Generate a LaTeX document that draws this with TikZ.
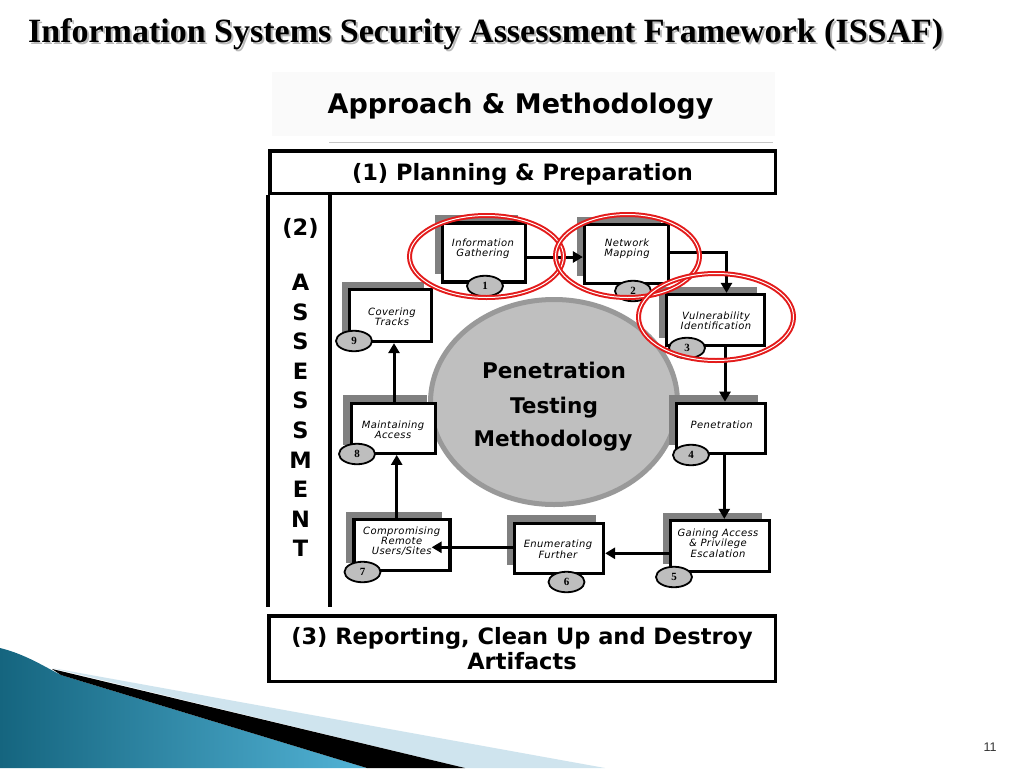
\documentclass[tikz,border=0pt]{standalone}
\usepackage{fontspec}
\usetikzlibrary{arrows.meta,shapes.geometric,shadows}
\newfontfamily\dvs{DejaVu Sans}
\newfontfamily\labfont[LetterSpace=4]{DejaVu Sans}
\newfontfamily\tnr{Liberation Serif}
\newfontfamily\arl{Liberation Sans}
\definecolor{shadowgray}{HTML}{808080}
\definecolor{numgray}{HTML}{BEBEBE}
\definecolor{circfill}{HTML}{BFBFBF}
\definecolor{circedge}{HTML}{999999}
\definecolor{ringred}{HTML}{E31B1B}
\definecolor{tealdark}{HTML}{15657F}
\definecolor{teallight}{HTML}{52B3D6}
\definecolor{paleblue}{HTML}{CFE4EE}
\definecolor{hdrbg}{HTML}{FAFAFA}
\begin{document}
\begin{tikzpicture}[x=1pt,y=-1pt,
  box/.style={draw=black, line width=3.2pt, fill=white, inner sep=0pt,
    general shadow={fill=shadowgray, shadow xshift=-8pt, shadow yshift=8pt}},
  numc/.style={ellipse, draw=black, line width=1.8pt, fill=numgray, inner sep=0pt,
    minimum width=36pt, minimum height=20.5pt, font=\tnr\bfseries\fontsize{11}{12}\selectfont},
  lab/.style={align=center, inner sep=0pt, font=\labfont\itshape\fontsize{10}{10.3}\selectfont},
  arr/.style={line width=3pt, -{Triangle[length=10pt,width=11pt]}},
  ring/.style={ellipse, draw=ringred, double=white, double distance=1pt, line width=2pt, inner sep=0pt},
  bigtxt/.style={font=\dvs\bfseries\fontsize{22.5}{24}\selectfont, inner sep=0pt},
  frame/.style={draw=black, line width=3.5pt, inner sep=0pt},
  vline/.style={line width=3.5pt}
]
\useasboundingbox (0,0) rectangle (1024,768);
\fill[white] (0,0) rectangle (1024,768);

% bottom-left decoration
\shade[left color=tealdark, right color=teallight] (0,648) .. controls (25,654) and (45,667) .. (61,675) -- (367,768) -- (0,768) -- cycle;
\fill[paleblue] (52,668) -- (605,768) -- (465,768) -- cycle;
\fill[black] (52,669) -- (465,768) -- (367,768) -- (61,675) -- cycle;

% title
\node[anchor=base west, inner sep=0pt, text=gray!55, font=\tnr\bfseries\fontsize{34}{38}\selectfont] (titsh) at (30,45) {Information Systems Security Assessment Framework (ISSAF)};
\node[anchor=base west, inner sep=0pt, font=\tnr\bfseries\fontsize{34}{38}\selectfont] (tit) at (28,43) {Information Systems Security Assessment Framework (ISSAF)};

% header
\fill[hdrbg] (272,72) rectangle (775,136);
\node[anchor=base, inner sep=0pt, font=\dvs\bfseries\fontsize{27}{30}\selectfont] (hdr) at (520.5,113.5) {Approach \& Methodology};
\draw[gray!45, line width=1.2pt] (329,142.5) -- (773,142.5);

% frames
\node[frame, minimum width=505.5pt, minimum height=42.5pt] (p1) at (522.5,172) {};
\node[bigtxt, anchor=base] (p1t) at (522.5,180) {(1) Planning \& Preparation};
\draw[vline] (p1.south west) -- ++(0,412);
\draw[vline] ([xshift=62pt]p1.south west) -- ++(0,412);
\node[frame, minimum width=506.5pt, minimum height=65.5pt] (p3) at (522,648.5) {};
\node[bigtxt, anchor=base] (p3a) at (522,644) {(3) Reporting, Clean Up and Destroy};
\node[bigtxt, anchor=base] (p3b) at (522,669) {Artifacts};

% assessment column
\node[bigtxt, anchor=base] (p2) at (300.5,235.5) {(2)};
\foreach \ch [count=\i] in {A,S,S,E,S,S,M,E,N,T}{
  \node[bigtxt, anchor=base] (L\i) at (300.5,{290.5+29.6*(\i-1)}) {\ch};
}

% central circle
\node[ellipse, draw=circedge, line width=5pt, fill=circfill, minimum width=247pt, minimum height=205pt] (pc) at (554,402) {};
\node[font=\dvs\bfseries\fontsize{21.6}{24}\selectfont, anchor=base, inner sep=0pt] (pc1) at (554,378) {Penetration};
\node[font=\dvs\bfseries\fontsize{21.6}{24}\selectfont, anchor=base, inner sep=0pt] (pc2) at (554,413) {Testing};
\node[font=\dvs\bfseries\fontsize{21.6}{24}\selectfont, anchor=base, inner sep=0pt] (pc3) at (553,446) {Methodology};

% boxes
\node[box, minimum width=83pt, minimum height=59pt] (b1) at (484,252.5) {};
\node[box, minimum width=84pt, minimum height=59pt] (b2) at (626.5,254) {};
\node[box, minimum width=98pt, minimum height=51pt] (b3) at (715.5,320) {};
\node[box, minimum width=89pt, minimum height=50pt] (b4) at (721,428.3) {};
\node[box, minimum width=99pt, minimum height=51pt] (b5) at (720,546) {};
\node[box, minimum width=89pt, minimum height=50pt] (b6) at (559,548.3) {};
\node[box, minimum width=96pt, minimum height=51pt] (b7) at (402,545) {};
\node[box, minimum width=84pt, minimum height=50pt] (b8) at (393.3,428.3) {};
\node[box, minimum width=82pt, minimum height=52pt] (b9) at (390.5,315.5) {};

% labels
\node[lab] (t1) at (483,249) {Information\\Gathering};
\node[lab] (t2) at (627,249) {Network\\Mapping};
\node[lab] (t3) at (716,320.5) {Vulnerability\\Identification};
\node[lab] (t4) at (721.7,425) {Penetration};
\node[lab] (t5) at (718,543) {Gaining Access\\\& Privilege\\Escalation};
\node[lab] (t6) at (558,549.3) {Enumerating\\Further};
\node[lab] (t7) at (401.7,541.3) {Compromising\\Remote\\Users/Sites};
\node[lab] (t8) at (393,430) {Maintaining\\Access};
\node[lab] (t9) at (392,316.5) {Covering\\Tracks};

% arrows
\coordinate (tip7) at ([xshift=-20pt]b7.east);
\draw[arr] ([yshift=-4.5pt]b1.east) -- ([yshift=-4.5pt]b1.east -| b2.west);
\draw[arr] ([yshift=2pt]b2.east) -| ([xshift=11pt]b3.north);
\draw[arr] ([xshift=9.5pt]b3.south) -- ([xshift=9.5pt]b3.south |- b4.north);
\draw[arr] ([xshift=3.3pt]b4.south) -- ([xshift=3.3pt]b4.south |- b5.north);
\draw[arr] ([yshift=-7.3pt]b5.west) -- ([yshift=-7.3pt]b5.west -| b6.east);
\draw[arr] ([yshift=1pt]b6.west) -- ([yshift=1pt]b6.west -| tip7);
\draw[arr] ([xshift=-5.3pt]b7.north) -- ([xshift=-5.3pt]b7.north |- b8.south);
\draw[arr] ([xshift=0.7pt]b8.north) -- ([xshift=0.7pt]b8.north |- b9.south);

% numbers
\node[numc] (c1) at (485,286) {1};
\node[numc] (c2) at (633,291) {2};
\node[numc] (c3) at (687,348) {3};
\node[numc] (c4) at (691,455) {4};
\node[numc] (c5) at (674,577) {5};
\node[numc] (c6) at (566.5,582) {6};
\node[numc] (c7) at (362.5,572) {7};
\node[numc] (c8) at (357,454) {8};
\node[numc] (c9) at (354,341) {9};

% red rings
\node[ring, minimum width=154pt, minimum height=82pt] (r1) at (486.5,256.5) {};
\node[ring, minimum width=144pt, minimum height=83pt] (r2) at (627.5,256) {};
\node[ring, minimum width=155pt, minimum height=87pt] (r3) at (716,317) {};

% page number
\node[anchor=base, inner sep=0pt, text=black!80, font=\arl\fontsize{12.5}{14}\selectfont] (pg) at (990,751) {11};
\end{tikzpicture}
\end{document}
